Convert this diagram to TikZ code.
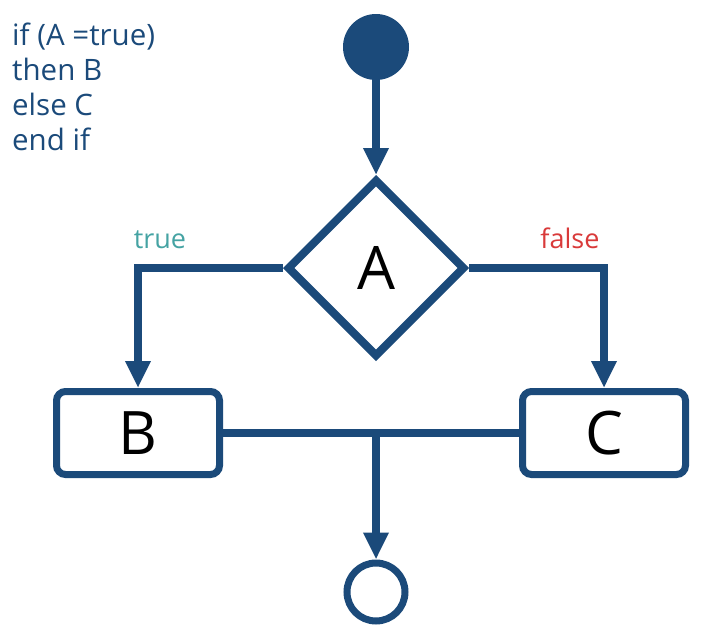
\documentclass[tikz,border=0pt]{standalone}
\usepackage{fontspec}
\setmainfont{Open Sans}
\usetikzlibrary{shapes.geometric,arrows.meta}
\definecolor{dblue}{HTML}{1B4A7A}
\definecolor{tealc}{HTML}{45A3A3}
\definecolor{redc}{HTML}{D93A3A}
\tikzset{
  conn/.style={draw=dblue, line width=8pt},
  arr/.style={conn, -{Triangle[length=27pt,width=24pt]}},
  actbox/.style={draw=dblue, line width=7pt, rounded corners=9pt, rectangle, minimum width=163pt, minimum height=83pt, inner sep=0pt, font=\fontsize{60}{62}\selectfont},
  lbl/.style={font=\fontsize{27}{30}\selectfont, inner sep=0pt, anchor=base}
}
\begin{document}
\begin{tikzpicture}[x=1pt,y=-1pt]
\useasboundingbox (0,0) rectangle (705,640);
\node[anchor=north west, align=left, inner sep=0pt, text=dblue, font=\fontsize{29.5}{35}\selectfont] (code) at (12,23) {if (A =true)\\then B\\else C\\end if};
\node[circle, fill=dblue, minimum size=66pt, inner sep=0pt] (start) at (376,47) {};
\node[diamond, draw=dblue, line width=8pt, aspect=1, minimum size=178pt, inner sep=0pt, font=\fontsize{60}{62}\selectfont] (A) at (376,268) {A};
\node[actbox] (B) at (138,433) {B};
\node[actbox] (C) at (604,433) {C};
\node[circle, draw=dblue, line width=7pt, minimum size=58pt, inner sep=0pt] (end) at (376,592) {};
\node[lbl, text=tealc] (t) at (160,248) {true};
\node[lbl, text=redc] (f) at (570,248) {false};
\draw[arr] (start) -- (A.north);
\draw[arr] (A.west) -| (B.north);
\draw[arr] (A.east) -| (C.north);
\draw[conn] (B.east) -- (C.west);
\draw[arr] (A |- B.east) -- (end.north);
\end{tikzpicture}
\end{document}
